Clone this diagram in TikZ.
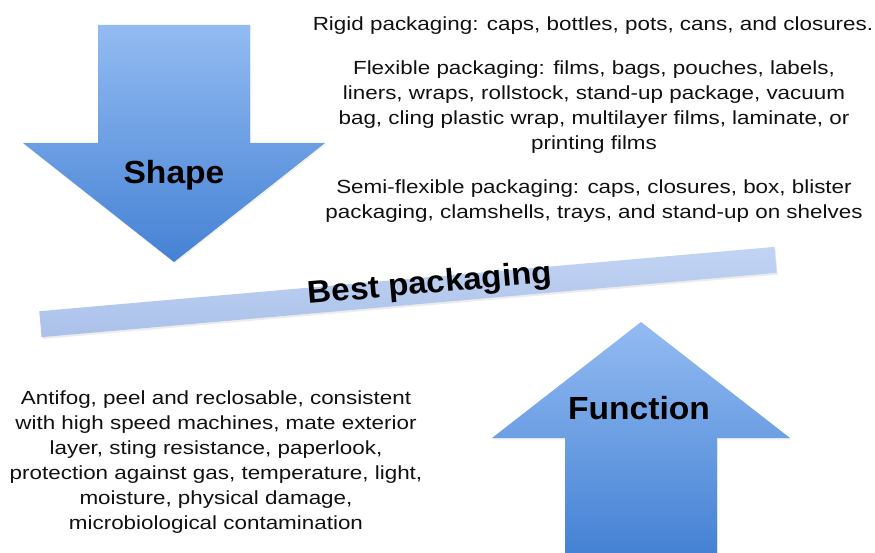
\documentclass[tikz,border=0pt]{standalone}
\usepackage{fontspec}
\setmainfont{Liberation Sans}
\newfontfamily\widesans[FakeStretch=1.18]{Liberation Sans}
\newfontfamily\labelsans[FakeStretch=1.05]{Liberation Sans}
\usetikzlibrary{shadows}
\definecolor{arrowtop}{HTML}{93BBF2}
\definecolor{arrowbot}{HTML}{4582D4}
\definecolor{bartop}{HTML}{C2D4F3}
\definecolor{barbot}{HTML}{ABC1EA}
\definecolor{txt}{HTML}{111111}
\tikzset{
  bigarrow/.style={draw=none, top color=arrowtop, bottom color=arrowbot,
    drop shadow={shadow xshift=1pt, shadow yshift=-1.5pt, opacity=0.12}},
  barstyle/.style={draw=none, top color=bartop, bottom color=barbot,
    minimum width=738pt, minimum height=26pt, inner sep=0pt,
    drop shadow={shadow xshift=1pt, shadow yshift=-2pt, opacity=0.15}},
  biglabel/.style={font=\labelsans\fontsize{32}{36}\selectfont\bfseries, text=black, inner sep=0pt},
  bodytext/.style={font=\widesans\fontsize{19}{25}\selectfont, text=txt, align=center, inner sep=0pt}
}
\begin{document}
\begin{tikzpicture}[x=1pt,y=-1pt]
  \useasboundingbox (0,0) rectangle (875,553);

  % downward arrow: shape
  \path[bigarrow] (98,25) -- (250,25) -- (250,143) -- (325,143) -- (174,262)
    -- (23,143) -- (98,143) -- cycle;
  \node[biglabel] (shape) at (174,175) {Shape};

  % upward arrow: function
  \path[bigarrow] (641,322) -- (790,438) -- (717,438) -- (717,553)
    -- (565,553) -- (565,438) -- (492,438) -- cycle;
  \node[biglabel] (function) at (639,408) {Function};

  % tilted balance bar
  \node[barstyle, rotate=5] (bar) at (408,292) {};
  \node[biglabel, font=\labelsans\fontsize{31.5}{36}\selectfont\bfseries, rotate=5] (best) at (430,285) {Best packaging};

  % shape categories
  \node[bodytext] (rigid) at (593,26) {Rigid packaging: caps, bottles, pots, cans, and closures.};
  \node[bodytext] (flex) at (594,107) {Flexible packaging: films, bags, pouches, labels,\\
    liners, wraps, rollstock, stand-up package, vacuum\\
    bag, cling plastic wrap, multilayer films, laminate, or\\
    printing films};
  \node[bodytext] (semi) at (594,201) {Semi-flexible packaging: caps, closures, box, blister\\
    packaging, clamshells, trays, and stand-up on shelves};

  % function properties
  \node[bodytext] (props) at (216,462) {Antifog, peel and reclosable, consistent\\
    with high speed machines, mate exterior\\
    layer, sting resistance, paperlook,\\
    protection against gas, temperature, light,\\
    moisture, physical damage,\\
    microbiological contamination};
\end{tikzpicture}
\end{document}
